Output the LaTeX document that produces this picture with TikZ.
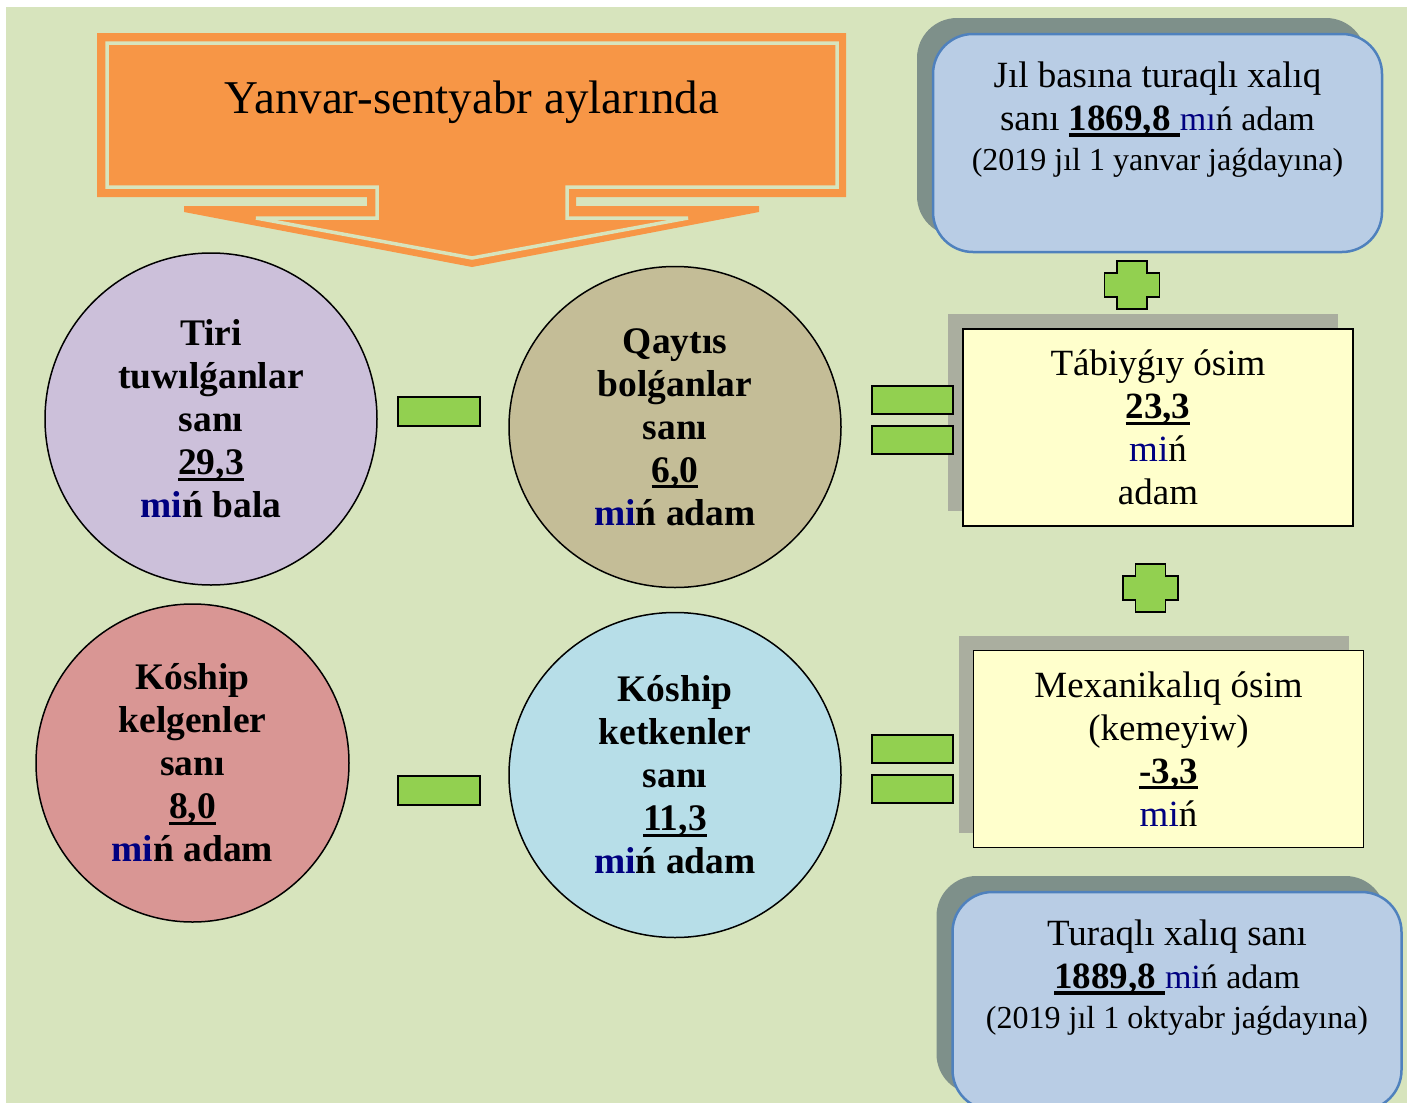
\documentclass[tikz,border=0pt]{standalone}
\usepackage{fontspec}
\setmainfont{Liberation Serif}
\usepackage{tikz}
\usetikzlibrary{shapes.geometric}
\usetikzlibrary{shadows}

\definecolor{bggreen}{HTML}{D7E4BD}
\definecolor{bannerorange}{HTML}{F79646}
\definecolor{lilac}{HTML}{CCC0DA}
\definecolor{tan}{HTML}{C4BD97}
\definecolor{rose}{HTML}{D99694}
\definecolor{skyblue}{HTML}{B7DEE8}
\definecolor{signgreen}{HTML}{92D050}
\definecolor{notefill}{HTML}{FFFFCC}
\definecolor{noteshade}{HTML}{AAAE9F}
\definecolor{boxfill}{HTML}{B9CDE5}
\definecolor{boxline}{HTML}{4F81BD}
\definecolor{boxshade}{HTML}{7E908A}
\definecolor{minblue}{HTML}{000080}

\newsavebox{\numbox}
\newcommand{\numline}[2][3pt]{\sbox{\numbox}{#2}\rlap{\rule[-6pt]{\wd\numbox}{#1}}\usebox{\numbox}}

\begin{document}
\begin{tikzpicture}[x=1pt, y=-1pt,
  countcircle/.style={ellipse, draw=black, line width=1.5pt, align=center, inner sep=0pt,
    font=\fontsize{37.5}{43}\selectfont\bfseries},
  notebox/.style={rectangle, draw=black, line width=1.5pt, fill=notefill, align=center,
    minimum width=390pt, minimum height=197pt, inner sep=0pt,
    font=\fontsize{37}{43}\selectfont,
    general shadow={fill=noteshade, shadow xshift=-15pt, shadow yshift=15pt}},
  totalbox/.style={rectangle, rounded corners=40pt, draw=boxline, line width=2.5pt, fill=boxfill,
    minimum width=449pt, minimum height=218pt,
    general shadow={fill=boxshade, shadow xshift=-16pt, shadow yshift=16pt}},
  boxtext/.style={align=center, font=\fontsize{37}{43}\selectfont},
  greenbar/.style={fill=signgreen, draw=black, line width=1.5pt}]
  \useasboundingbox (0,0) rectangle (1411,1103);
  \fill[bggreen] (6,7) rectangle (1407,1103);

%%%%%%%%%%%% Banner arrow
  \fill[bannerorange] (97,33) -- (846,33) -- (846,197) -- (576,197) -- (576,206) -- (759,206)
    -- (759,212) -- (472,267) -- (184,212) -- (184,206) -- (367,206) -- (367,197) -- (97,197) -- cycle;
  \draw[bggreen, line width=3.5pt, line join=miter] (107,43) -- (837,43) -- (837,187) -- (567,187)
    -- (567,218) -- (688,218) -- (472,258) -- (256,218) -- (377,218) -- (377,187) -- (107,187) -- cycle;
  \node[font=\fontsize{47}{56}\selectfont] (period) at (472,102) {Yanvar-sentyabr aylarında};

%%%%%%%%%%%% Counts
  \node[countcircle, fill=lilac, minimum width=332pt, minimum height=332pt] (born) at (211,419)
    {Tiri\\ tuwılǵanlar\\ sanı\\ \numline{29,3}\\ \textcolor{minblue}{mi}ń bala};
  \node[countcircle, fill=tan, minimum width=332pt, minimum height=321pt] (died) at (675,427)
    {Qaytıs\\ bolǵanlar\\ sanı\\ \numline{6,0}\\ \textcolor{minblue}{mi}ń adam};
  \node[countcircle, fill=rose, minimum width=313pt, minimum height=318pt] (arrived) at (192.5,763)
    {Kóship\\ kelgenler\\ sanı\\ \numline{8,0}\\ \textcolor{minblue}{mi}ń adam};
  \node[countcircle, fill=skyblue, minimum width=332pt, minimum height=325pt] (left) at (675,775)
    {Kóship\\ ketkenler\\ sanı\\ \numline{11,3}\\ \textcolor{minblue}{mi}ń adam};

%%%%%%%%%%%% Growth
  \node[notebox] (natural) at (1158,427.5)
    {Tábiyǵıy ósim\\ \textbf{\numline{23,3}}\\ \textcolor{minblue}{mi}ń\\ adam};
  \node[notebox] (migration) at (1168.5,749)
    {Mexanikalıq ósim\\ (kemeyiw)\\ \textbf{\numline{-3,3}}\\ \textcolor{minblue}{mi}ń};

%%%%%%%%%%%% Signs
  \draw[greenbar] (398,397) rectangle (480,426);
  \draw[greenbar] (398,776) rectangle (480,805);
  \foreach \y in {386,735} {
    \draw[greenbar] (872,\y) rectangle (953,\y+28);
    \draw[greenbar] (872,\y+40) rectangle (953,\y+68);
  }
  \foreach \cx/\cy in {1132/285, 1150.5/588} {
    \draw[greenbar] (\cx-15,\cy-24) -- ++(30,0) -- ++(0,12) -- ++(12.5,0) -- ++(0,24) -- ++(-12.5,0)
      -- ++(0,12) -- ++(-30,0) -- ++(0,-12) -- ++(-12.5,0) -- ++(0,-24) -- ++(12.5,0) -- cycle;
  }

%%%%%%%%%%%% Totals
  \node[totalbox] (startbox) at (1157.5,143) {};
  \node[boxtext] (starttext) at (1157.5,120)
    {Jıl basına turaqlı xalıq\\ sanı \textbf{\numline[4pt]{1869,8\ }}{\fontsize{34}{40}\selectfont\textcolor{minblue}{mı}ń adam}\\[-3pt]
     {\fontsize{32}{40}\selectfont (2019 jıl 1 yanvar jaǵdayına)}};
  \node[totalbox] (endbox) at (1177,1001) {};
  \node[boxtext] (endtext) at (1177,978)
    {Turaqlı xalıq sanı\\ \textbf{\numline[4pt]{1889,8\ }}{\fontsize{34}{40}\selectfont\textcolor{minblue}{mi}ń adam}\\[-3pt]
     {\fontsize{32}{40}\selectfont (2019 jıl 1 oktyabr jaǵdayına)}};
\end{tikzpicture}
\end{document}
